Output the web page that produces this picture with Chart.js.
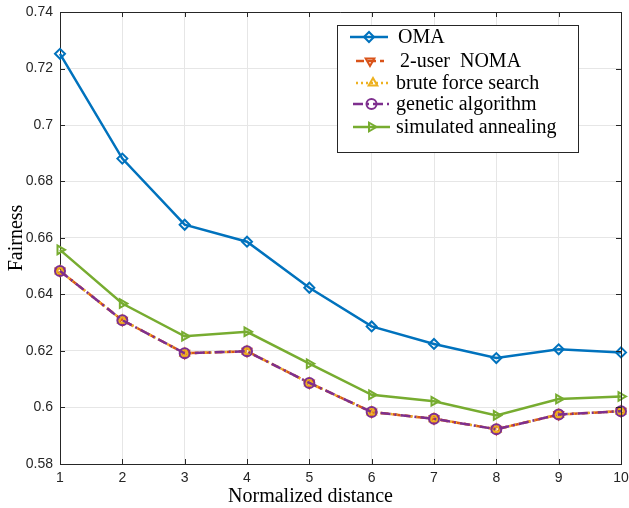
<!DOCTYPE html>
<html>
<head>
<meta charset="utf-8">
<script src="https://cdn.jsdelivr.net/npm/chart.js@4/dist/chart.umd.min.js"></script>
<style>
  html, body { margin: 0; padding: 0; background: #fff; }
  #wrap { width: 629px; height: 508px; }
</style>
</head>
<body>
<div id="wrap"><canvas id="chart" width="629" height="508"></canvas></div>
<script>
const distance = [1, 2, 3, 4, 5, 6, 7, 8, 9, 10];
const oma = [0.7252, 0.6881, 0.6647, 0.6587, 0.6424, 0.6287, 0.6225, 0.6175, 0.6206, 0.6195];
const noma2 = [0.6483, 0.6309, 0.6192, 0.6199, 0.6087, 0.5984, 0.5960, 0.5923, 0.5975, 0.5987];
const bruteForce = [0.6483, 0.6309, 0.6192, 0.6199, 0.6087, 0.5984, 0.5960, 0.5923, 0.5975, 0.5987];
const genetic = [0.6483, 0.6309, 0.6192, 0.6199, 0.6087, 0.5984, 0.5960, 0.5923, 0.5975, 0.5987];
const annealing = [0.6558, 0.6368, 0.6252, 0.6268, 0.6155, 0.6045, 0.6022, 0.5972, 0.6030, 0.6039];
const yTicks = [0.58, 0.6, 0.62, 0.64, 0.66, 0.68, 0.7, 0.72, 0.74];
const xTitle = 'Normalized distance';

const pts = (ys) => ys.map((y, i) => ({ x: distance[i], y: y }));

function series(label, ys, color, style, rot, dash, order) {
  return {
    label: label,
    data: pts(ys),
    borderColor: color,
    backgroundColor: color,
    borderWidth: 2.5,
    borderDash: dash,
    pointStyle: style,
    pointRotation: rot,
    pointRadius: 5,
    pointBorderWidth: 2,
    pointBackgroundColor: 'rgba(0,0,0,0)',
    pointBorderColor: color,
    tension: 0,
    clip: false,
    order: order
  };
}

const boxPlugin = {
  id: 'box',
  afterDraw(chart) {
    const ctx = chart.ctx;
    const a = chart.chartArea;
    const xs = chart.scales.x, ys = chart.scales.y;
    ctx.save();
    ctx.strokeStyle = '#262626';
    ctx.lineWidth = 1;
    ctx.beginPath();
    ctx.moveTo(a.left, a.top + 0.5);
    ctx.lineTo(a.right + 0.5, a.top + 0.5);
    ctx.lineTo(a.right + 0.5, a.bottom);
    ctx.stroke();
    // inward ticks
    ctx.beginPath();
    distance.forEach(v => {
      const px = Math.round(xs.getPixelForValue(v)) + 0.5;
      ctx.moveTo(px, a.bottom); ctx.lineTo(px, a.bottom - 5);
      ctx.moveTo(px, a.top); ctx.lineTo(px, a.top + 5);
    });
    yTicks.forEach(v => {
      const py = Math.round(ys.getPixelForValue(v)) + 0.5;
      ctx.moveTo(a.left, py); ctx.lineTo(a.left + 5, py);
      ctx.moveTo(a.right, py); ctx.lineTo(a.right - 5, py);
    });
    ctx.stroke();

    // x axis title (sits left of the axis centre in the original)
    ctx.font = '20px "Liberation Serif", "Times New Roman", serif';
    ctx.fillStyle = '#000';
    ctx.textAlign = 'center';
    ctx.textBaseline = 'alphabetic';
    ctx.fillText(xTitle, 310.5, 502);

    // legend
    const bx = 337, by = 25, bw = 241, bh = 127;
    ctx.fillStyle = '#fff';
    ctx.fillRect(bx, by, bw, bh);
    ctx.strokeStyle = '#262626';
    ctx.strokeRect(bx + 0.5, by + 0.5, bw, bh);
    const rows = [
      { y: 37, x1: 350, x2: 388, tx: 398 },
      { y: 61, x1: 356, x2: 384, tx: 400 },
      { y: 83, x1: 356, x2: 390, tx: 396 },
      { y: 104, x1: 353, x2: 390, tx: 396 },
      { y: 127, x1: 353, x2: 390, tx: 396 }
    ];
    ctx.textAlign = 'left';
    ctx.textBaseline = 'middle';
    chart.data.datasets.forEach((ds, i) => {
      const r = rows[i];
      const mx = (r.x1 + r.x2) / 2;
      ctx.save();
      ctx.strokeStyle = ds.borderColor;
      ctx.lineWidth = ds.borderWidth;
      ctx.setLineDash(ds.borderDash || []);
      ctx.beginPath();
      ctx.moveTo(r.x1, r.y); ctx.lineTo(r.x2, r.y);
      ctx.stroke();
      ctx.setLineDash([]);
      ctx.lineWidth = ds.pointBorderWidth;
      ctx.fillStyle = 'rgba(0,0,0,0)';
      Chart.helpers.drawPoint(ctx, {
        pointStyle: ds.pointStyle, rotation: ds.pointRotation,
        radius: ds.pointRadius, borderWidth: ds.pointBorderWidth
      }, mx, r.y);
      ctx.restore();
      ctx.fillStyle = '#000';
      ctx.fillText(ds.label, r.tx, r.y + 1);
    });
    ctx.restore();
  }
};

const config = {
  type: 'line',
  data: {
    datasets: [
      series('OMA', oma, '#0072BD', 'rectRot', 0, [], 5),
      series('2-user  NOMA', noma2, '#D95319', 'triangle', 180, [8, 4], 4),
      series('brute force search', bruteForce, '#EDB120', 'triangle', 0, [2, 3], 3),
      series('genetic algorithm', genetic, '#7E2F8E', 'circle', 0, [10, 4, 2, 4], 2),
      series('simulated annealing', annealing, '#77AC30', 'triangle', 90, [], 1)
    ]
  },
  options: {
    responsive: false,
    animation: false,
    layout: { padding: { left: 0, right: 8, top: 12, bottom: 0 } },
    plugins: {
      legend: { display: false },
      tooltip: { enabled: false }
    },
    scales: {
      x: {
        type: 'linear',
        min: 1,
        max: 10,
        afterFit: s => { s.height = 44; s.paddingLeft = 0; s.paddingRight = 0; },
        ticks: {
          stepSize: 1,
          padding: 6,
          color: '#262626',
          font: { family: '"Liberation Sans", Arial, sans-serif', size: 14 }
        },
        grid: { color: '#e6e6e6', drawTicks: false },
        border: { color: '#262626', width: 1 },
        title: { display: false }
      },
      y: {
        type: 'linear',
        min: 0.58,
        max: 0.74,
        afterFit: s => { s.width = 60; s.paddingTop = 0; s.paddingBottom = 0; },
        afterBuildTicks: s => { s.ticks = yTicks.map(v => ({ value: v })); },
        ticks: {
          padding: 7,
          color: '#262626',
          font: { family: '"Liberation Sans", Arial, sans-serif', size: 14 },
          callback: v => String(Number(v.toFixed(2)))
        },
        grid: { color: '#e6e6e6', drawTicks: false },
        border: { color: '#262626', width: 1 },
        title: {
          display: true,
          text: 'Fairness',
          color: '#000',
          padding: { top: 5, bottom: 0 },
          font: { family: '"Liberation Serif", "Times New Roman", serif', size: 20 }
        }
      }
    }
  },
  plugins: [boxPlugin]
};

const myChart = new Chart(document.getElementById('chart'), config);
</script>
</body>
</html>
